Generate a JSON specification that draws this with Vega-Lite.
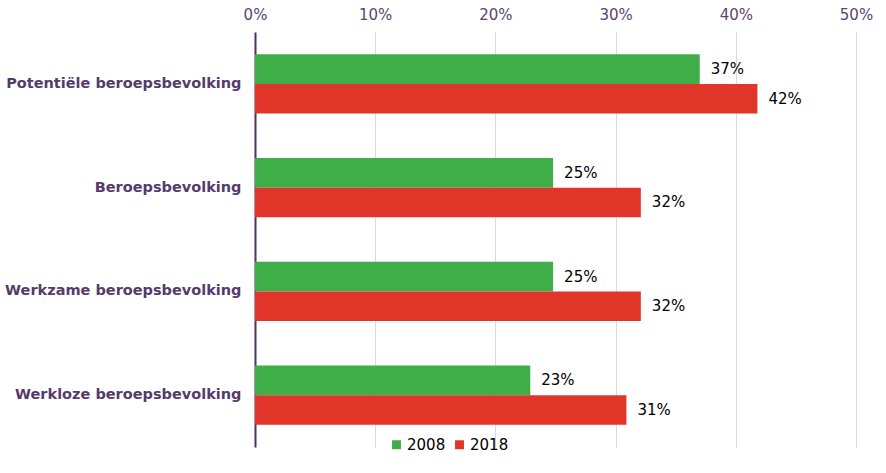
{
  "$schema": "https://vega.github.io/schema/vega-lite/v6.json",
  "autosize": {"type": "none"},
  "width": 601,
  "height": 415,
  "padding": {"left": 255, "top": 32, "right": 30, "bottom": 26},
  "background": "white",
  "data": {
    "values": [
      {"categorie": "Potentiële beroepsbevolking", "jaar": "2008", "waarde": 0.37},
      {"categorie": "Potentiële beroepsbevolking", "jaar": "2018", "waarde": 0.418},
      {"categorie": "Beroepsbevolking", "jaar": "2008", "waarde": 0.248},
      {"categorie": "Beroepsbevolking", "jaar": "2018", "waarde": 0.321},
      {"categorie": "Werkzame beroepsbevolking", "jaar": "2008", "waarde": 0.248},
      {"categorie": "Werkzame beroepsbevolking", "jaar": "2018", "waarde": 0.321},
      {"categorie": "Werkloze beroepsbevolking", "jaar": "2008", "waarde": 0.229},
      {"categorie": "Werkloze beroepsbevolking", "jaar": "2018", "waarde": 0.309}
    ]
  },
  "config": {
    "font": "DejaVu Sans",
    "view": {"stroke": null}
  },
  "encoding": {
    "y": {
      "field": "categorie",
      "type": "nominal",
      "sort": ["Potentiële beroepsbevolking", "Beroepsbevolking", "Werkzame beroepsbevolking", "Werkloze beroepsbevolking"],
      "scale": {"paddingInner": 0.43, "paddingOuter": 0.215},
      "axis": {
        "title": null,
        "ticks": false,
        "domain": true,
        "domainColor": "#4e3160",
        "domainWidth": 2,
        "labelColor": "#553b6b",
        "labelFont": "DejaVu Sans",
        "labelFontWeight": "bold",
        "labelFontSize": 14.5,
        "labelPadding": 14,
        "labelLimit": 300
      }
    },
    "yOffset": {"field": "jaar", "type": "nominal", "sort": ["2008", "2018"]},
    "x": {
      "field": "waarde",
      "type": "quantitative",
      "scale": {"domain": [0, 0.5], "nice": false},
      "axis": {
        "orient": "top",
        "title": null,
        "format": ".0%",
        "values": [0, 0.1, 0.2, 0.3, 0.4, 0.5],
        "ticks": false,
        "domain": false,
        "grid": true,
        "gridColor": "#d9d9d9",
        "gridWidth": 1,
        "labelColor": "#5a4470",
        "labelFontSize": 15,
        "labelFlush": false,
        "labelPadding": 10
      }
    }
  },
  "layer": [
    {
      "mark": {"type": "bar"},
      "encoding": {
        "color": {
          "field": "jaar",
          "type": "nominal",
          "scale": {"domain": ["2008", "2018"], "range": ["#3fae49", "#e2352a"]},
          "legend": {
            "title": null,
            "orient": "none",
            "direction": "horizontal",
            "legendX": 134,
            "legendY": 405,
            "symbolType": "square",
            "symbolSize": 80,
            "symbolStrokeWidth": 0,
            "labelFontSize": 15,
            "labelColor": "#000000",
            "labelOffset": 3,
            "columnPadding": 6
          }
        }
      }
    },
    {
      "mark": {"type": "text", "align": "left", "baseline": "middle", "dx": 11, "fontSize": 15, "color": "#000000"},
      "encoding": {
        "text": {"field": "waarde", "type": "quantitative", "format": ".0%"}
      }
    }
  ]
}
